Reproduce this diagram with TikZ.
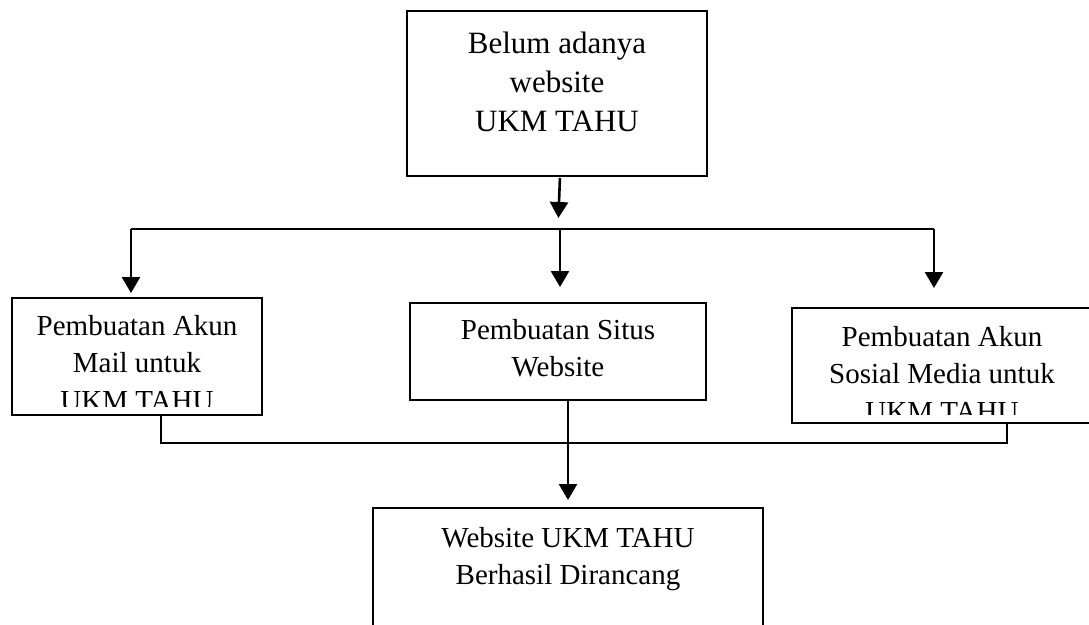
\documentclass[tikz,border=0pt]{standalone}
\usepackage{fontspec}
\setmainfont{Liberation Serif}
\usetikzlibrary{arrows.meta}
\tikzset{
  box/.style={draw=black, line width=1.3pt, inner sep=0pt, outer sep=0pt, anchor=north west},
  txt/.style={inner sep=0pt, outer sep=0pt, anchor=base},
  conn/.style={draw=black, line width=1.3pt},
  arr/.style={draw=black, line width=2.6pt, -{Triangle[width=18pt 0,length=16pt 0]}},
}
\newcommand{\boxfont}{\fontsize{29}{37.5}\selectfont}
\newcommand{\topfont}{\fontsize{31}{39.3}\selectfont}
\begin{document}
\begin{tikzpicture}[x=1pt,y=-1pt]
\useasboundingbox (0,0) rectangle (1089,624);
\clip (0,0) rectangle (1089,624);

% boxes
\node[box, minimum width=300pt, minimum height=165pt] (top) at (407,11) {};
\node[box, minimum width=250pt, minimum height=117pt] (mail) at (12,298) {};
\node[box, minimum width=296pt, minimum height=97pt] (site) at (410,303) {};
\node[box, minimum width=320pt, minimum height=115pt] (sosmed) at (792,308) {};
\node[box, minimum width=390pt, minimum height=140pt] (result) at (373,508) {};

% texts
\node[txt] (toptext) at (557,53) {\topfont\begin{tabular}[t]{@{}c@{}}Belum adanya\\website\\UKM TAHU\end{tabular}};
\begin{scope}
  \clip (12,298) rectangle (262,406);
  \node[txt] (mailtext) at (137,335) {\boxfont\begin{tabular}[t]{@{}c@{}}Pembuatan Akun\\Mail untuk\\UKM TAHU\end{tabular}};
\end{scope}
\node[txt] (sitetext) at (558,339) {\boxfont\begin{tabular}[t]{@{}c@{}}Pembuatan Situs\\Website\end{tabular}};
\begin{scope}
  \clip (792,308) rectangle (1089,414);
  \node[txt] (sosmedtext) at (942,346) {\boxfont\begin{tabular}[t]{@{}c@{}}Pembuatan Akun\\Sosial Media untuk\\UKM TAHU\end{tabular}};
\end{scope}
\node[txt] (resulttext) at (568,547) {\boxfont\begin{tabular}[t]{@{}c@{}}Website UKM TAHU\\Berhasil Dirancang\end{tabular}};

% upper connectors
\coordinate (hL) at (131,229);
\coordinate (hM) at (560,229);
\coordinate (hR) at (934,229);
\draw[arr, shorten <=2pt, shorten >=11pt] ([xshift=3pt]top.south) -- ([xshift=-2pt]hM);
\draw[conn] (hL) -- (hR);
\draw[arr, shorten >=5pt] (hL) -- (hL |- mail.north);
\draw[arr, shorten >=16pt] (hM) -- (hM |- site.north);
\draw[arr, shorten >=20pt] (hR) -- (hR |- sosmed.north);

% lower connectors
\coordinate (bL) at (161,443);
\coordinate (bR) at (1007,443);
\draw[conn] (bL |- mail.south) -- (bL) -- (bR) -- (bR |- sosmed.south);
\coordinate (mArr) at ([xshift=10pt]site.south);
\draw[arr, shorten >=8pt] (mArr) -- (mArr |- result.north);
\end{tikzpicture}
\end{document}
